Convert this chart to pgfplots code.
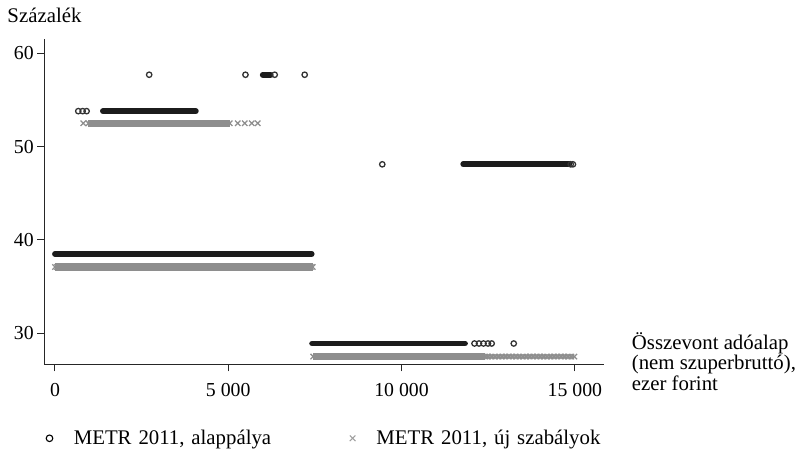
\documentclass[border=0pt]{standalone}
\usepackage{fontspec}
\setmainfont{Liberation Serif}
\usepackage{pgfplots}
\pgfplotsset{compat=1.18}
\definecolor{alap}{HTML}{1C1C1C}
\definecolor{uj}{HTML}{8E8E8E}
\definecolor{ujlight}{HTML}{A6A6A6}

\begin{document}
\begin{tikzpicture}[font=\fontsize{20.8}{24}\selectfont]
\path[use as bounding box] (-44.3pt,-85.7pt) rectangle (765.7pt,364.3pt);
\begin{axis}[
  at={(0pt,0pt)}, anchor=south west,
  scale only axis, width=560pt, height=325.3pt,
  xmin=-308, xmax=15850, ymin=26.67, ymax=61.53,
  axis x line=bottom, axis y line=left,
  axis line style={-, line width=1.1pt, color=black!85},
  tick align=outside, major tick length=7pt,
  tick style={line width=1pt, color=black!85},
  scaled x ticks=false, scaled y ticks=false,
  xtick={0,5000,10000,15000}, xticklabels={0,5~000,10~000,15~000},
  ytick={30,40,50,60}, yticklabels={30,40,50,60},
  ticklabel style={font=\fontsize{19.8}{22}\selectfont},
  xticklabel style={yshift=-8pt},
  clip=false,
  legend columns=2,
  legend cell align=left,
  legend style={at={(axis description cs:0.0034,-0.2275)}, anchor=west,
    draw=none, fill=none, inner sep=0pt, outer sep=0pt, column sep=0pt,
    /tikz/every odd column/.style={column sep=21pt},
    nodes={inner sep=0pt, text width=276pt, font=\fontsize{20.8}{24}\selectfont}},
  legend image code/.code={\draw[#1] plot coordinates {(0pt,0pt)};},
]
% legend entries
\addlegendimage{only marks, mark=o, mark size=3.3pt, mark options={line width=1.1pt}, color=black}
\addlegendimage{only marks, mark=x, mark size=4pt, mark options={line width=1pt}, color=uj!85}

% --- METR 2011, new rules (grey crosses) ---
\addplot[forget plot, uj, line width=7.5pt] coordinates {(0,37.1) (7436,37.1)};
\addplot[forget plot, uj, line width=7.5pt] coordinates {(965,52.5) (5043,52.5)};
\addplot[forget plot, uj, line width=7.5pt] coordinates {(7450,27.5) (12420,27.5)};
\addplot[forget plot, ujlight, line width=5pt] coordinates {(12420,27.5) (14986,27.5)};
\addplot[forget plot, only marks, mark=x, mark size=3.8pt, mark options={line width=1.3pt}, color=uj]
  coordinates {
  (0,37.1) (60,37.1) (7380,37.1) (7436,37.1)
  (816,52.5) (965,52.5) (5043,52.5) (5274,52.5) (5476,52.5) (5678,52.5) (5850,52.5)
  (7450,27.5) (12420,27.5)
  (12500,27.5) (12600,27.5) (12700,27.5) (12800,27.5) (12900,27.5) (13000,27.5)
  (13100,27.5) (13200,27.5) (13300,27.5) (13400,27.5) (13500,27.5) (13600,27.5)
  (13700,27.5) (13800,27.5) (13900,27.5) (14000,27.5) (14100,27.5) (14200,27.5)
  (14300,27.5) (14400,27.5) (14500,27.5) (14600,27.5) (14700,27.5) (14800,27.5)
  (14900,27.5) (14986,27.5)
  };

% --- METR 2011, baseline (dark circles) ---
\addplot[forget plot, alap, line width=5.8pt, line cap=round] coordinates {(0,38.5) (7407,38.5)};
\addplot[forget plot, alap, line width=5.8pt, line cap=round] coordinates {(1383,53.8) (4064,53.8)};
\addplot[forget plot, alap, line width=5.8pt, line cap=round] coordinates {(5995,57.7) (6225,57.7)};
\addplot[forget plot, alap, line width=5.8pt, line cap=round] coordinates {(11780,48.1) (14840,48.1)};
\addplot[forget plot, alap, line width=5.8pt, line cap=round] coordinates {(7420,28.9) (11830,28.9)};
\addplot[forget plot, only marks, mark=o, mark size=2.7pt, mark options={line width=1.3pt, fill=white}, color=alap!90]
  coordinates {
  (2718,57.7) (5496,57.7) (6340,57.7) (7205,57.7)
  (672,53.8) (798,53.8) (913,53.8)
  (9444,48.1) (14880,48.1) (14945,48.1)
  (12104,28.9) (12234,28.9) (12364,28.9) (12493,28.9) (12600,28.9)
  (13237,28.9)
  };

\legend{{METR 2011, alappálya},{METR 2011, új szabályok}}
\end{axis}
\node[anchor=base west, inner sep=0pt] at (-37pt,341.6pt) {Százalék};
\node[anchor=base west, inner sep=0pt] at (587.4pt,15pt) {Összevont adóalap};
\node[anchor=base west, inner sep=0pt] at (587.4pt,-5pt) {(nem szuperbruttó),};
\node[anchor=base west, inner sep=0pt] at (587.4pt,-25.7pt) {ezer forint};
\end{tikzpicture}
\end{document}
